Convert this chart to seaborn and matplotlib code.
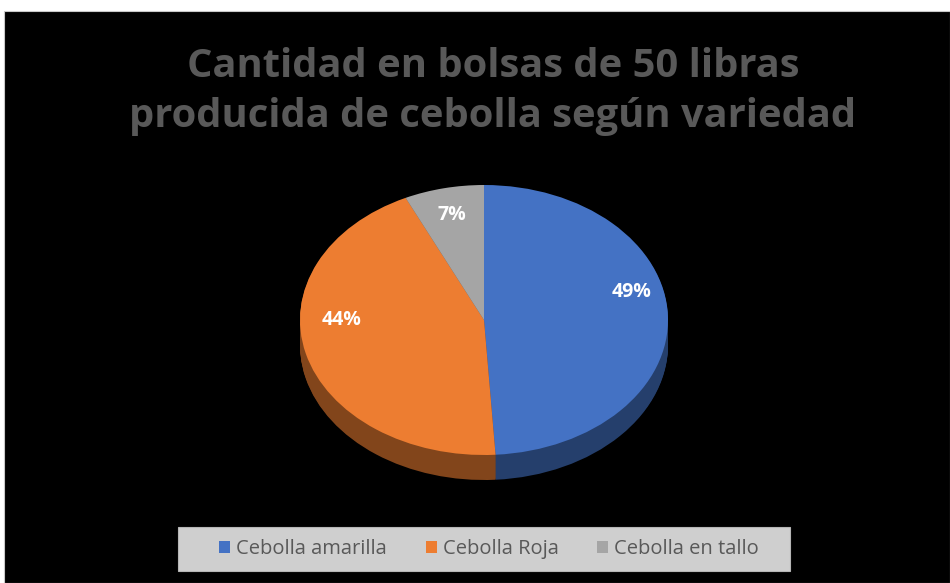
import matplotlib
matplotlib.use('Agg')
import matplotlib.pyplot as plt
import seaborn as sns
from matplotlib.patches import Rectangle

# Datos del gráfico
categorias = ['Cebolla amarilla', 'Cebolla Roja', 'Cebolla en tallo']
porcentajes = [49, 44, 7]
colores = ['#4472c4', '#ed7d31', '#a5a5a5']
titulo = ['Cantidad en bolsas de 50 libras', 'producida de cebolla según variedad']

sns.set_style('white')
plt.rcParams['font.family'] = ['Open Sans', 'DejaVu Sans']

W_FIG, H_FIG = 950, 583
fig = plt.figure(figsize=(W_FIG / 100, H_FIG / 100), dpi=100, facecolor='white')

# fondo negro (queda un borde blanco arriba y a la izquierda)
fig.add_artist(Rectangle((4 / W_FIG, 0), 946 / W_FIG, 572 / H_FIG,
                         transform=fig.transFigure, facecolor='black',
                         edgecolor='#c8c8c8', lw=0.8, zorder=0))

# geometría de la "torta 3D" en píxeles
rx, ry = 184, 135
cx, cy = 484, H_FIG - 320
W, H = 420, 360
prof = 25 / ry

ax = fig.add_axes([(cx - W / 2) / W_FIG, (cy - H / 2) / H_FIG, W / W_FIG, H / H_FIG])
ax.set_facecolor('none')

def oscurecer(c, f):
    r, g, b = matplotlib.colors.to_rgb(c)
    return (r * f, g * f, b * f)

# lateral: capas desplazadas hacia abajo con colores oscuros
colores_lado = [oscurecer(c, 0.55) for c in colores]
n = 30
for i in range(n, 0, -1):
    ax.pie(porcentajes, colors=colores_lado, startangle=90, counterclock=False,
           center=(0, -prof * i / n), wedgeprops=dict(linewidth=0))

# cara superior
wedges, _, autotextos = ax.pie(
    porcentajes, colors=colores, startangle=90, counterclock=False,
    autopct='%1.0f%%', pctdistance=0.8, wedgeprops=dict(linewidth=0),
    textprops=dict(color='white', fontsize=14, fontweight='bold'))

# ajuste por perspectiva de las etiquetas
desplaz = [0.18, 0.2, 0.0]
for t, d in zip(autotextos, desplaz):
    x, y = t.get_position()
    t.set_position((x, y + d))

ax.set_aspect('auto')
ax.set_xlim(-W / 2 / rx, W / 2 / rx)
ax.set_ylim(-H / 2 / ry, H / 2 / ry)
ax.axis('off')

# título en dos líneas
for linea, base in zip(titulo, [77, 127]):
    fig.text(493 / W_FIG, 1 - base / H_FIG, linea, ha='center', va='baseline',
             fontsize=28.7, fontweight='bold', color='#595959')

# leyenda con caja gris
fig.add_artist(Rectangle((178 / W_FIG, (H_FIG - 571) / H_FIG), 612 / W_FIG, 44 / H_FIG,
                         transform=fig.transFigure, facecolor='#cfcfcf',
                         edgecolor='#b5b5b5', lw=0.8, zorder=1))
leg = fig.legend(wedges, categorias, loc='center', ncol=3,
                 bbox_to_anchor=(489 / W_FIG, (H_FIG - 549) / H_FIG),
                 frameon=False, fontsize=14.5, labelcolor='#595959',
                 handlelength=0.55, handleheight=0.55, handletextpad=0.3,
                 columnspacing=1.9)
leg.set_zorder(2)

fig.savefig('out.png', dpi=100, facecolor='white')
